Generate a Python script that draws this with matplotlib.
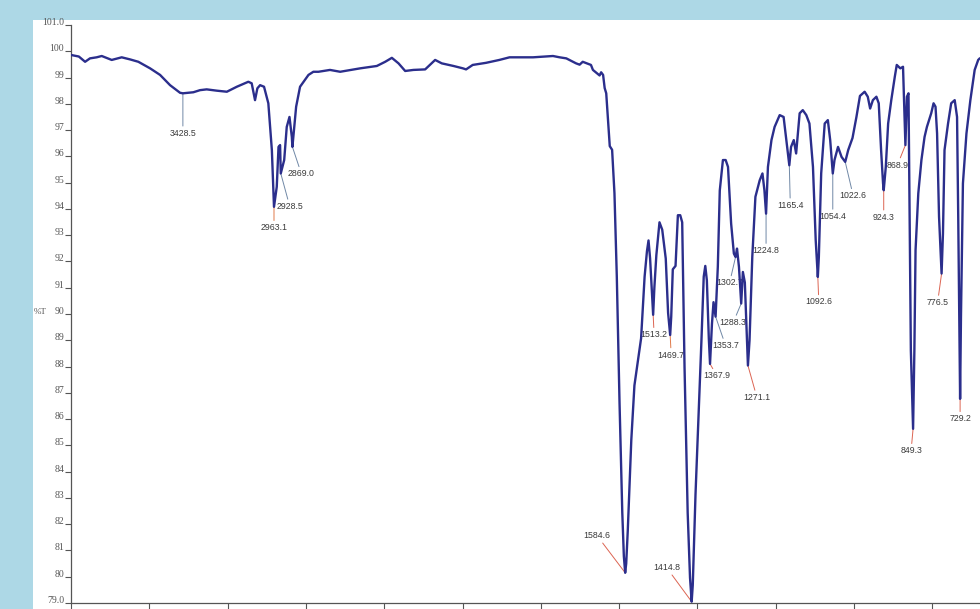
# IR spectrum (%T vs wavenumber) with peak labels
import numpy as np
import matplotlib.pyplot as plt
from matplotlib.patches import Rectangle

# spectrum (cm-1, %T)
wavenumber = [4000, 3960, 3928, 3903, 3869, 3843, 3792, 3741, 3698, 3656, 3596, 3545,
              3494, 3443, 3428.5, 3375, 3341, 3307, 3255, 3204, 3153, 3094, 3077, 3060,
              3048, 3034, 3014, 2992, 2974, 2963.1, 2949, 2940, 2932, 2928.5, 2911, 2898,
              2884, 2872, 2869.0, 2850, 2830, 2787, 2762, 2736, 2677, 2625, 2523, 2438,
              2395, 2361, 2327, 2293, 2251, 2191, 2140, 2106, 2046, 1999, 1991, 1974,
              1940, 1906, 1880, 1820, 1769, 1752, 1735, 1710, 1701, 1693, 1672, 1667,
              1650, 1646, 1641, 1637, 1633, 1629, 1624, 1618, 1612, 1606, 1599, 1592,
              1588, 1584.6, 1582, 1578, 1569, 1561, 1552, 1544, 1535, 1529, 1525, 1521,
              1516, 1513.2, 1510, 1505, 1497, 1490, 1481, 1475, 1469.7, 1467, 1463, 1456,
              1450, 1444, 1439, 1433, 1425, 1419, 1414.8, 1412, 1405, 1396, 1390, 1384,
              1380, 1376, 1371, 1367.9, 1363, 1359, 1353.7, 1348, 1343, 1335, 1328, 1322,
              1314, 1307, 1302.7, 1299, 1294, 1288.3, 1284, 1279, 1275, 1271.1, 1267, 1260,
              1252, 1241, 1234, 1229, 1224.8, 1220, 1211, 1203, 1190, 1180, 1173, 1165.4,
              1161, 1154, 1148, 1139, 1131, 1122, 1114, 1105, 1098, 1092.6, 1090, 1084,
              1075, 1067, 1061, 1054.4, 1050, 1041, 1032, 1022.6, 1015, 1004, 994, 985,
              973, 965, 959, 952, 943, 937, 931, 926, 924.3, 919, 913, 905,
              896, 891, 882, 875, 871, 868.9, 865, 861, 858, 855, 849.3, 846,
              843, 836, 828, 820, 814, 803, 797, 792, 788, 783, 776.5, 773,
              769, 760, 752, 743, 737, 734, 729.2, 727, 722, 713, 703, 692,
              683, 679, 660]
transmittance = [99.86, 99.8, 99.6, 99.73, 99.77, 99.82, 99.67, 99.77, 99.69, 99.6, 99.35, 99.1,
                 98.71, 98.42, 98.4, 98.44, 98.52, 98.55, 98.5, 98.46, 98.65, 98.84, 98.78, 98.14,
                 98.59, 98.71, 98.65, 98.02, 96.24, 94.08, 94.84, 96.36, 96.43, 95.35, 95.86, 97.12,
                 97.5, 96.74, 96.36, 97.89, 98.65, 99.1, 99.22, 99.22, 99.29, 99.22, 99.35, 99.44,
                 99.6, 99.75, 99.54, 99.25, 99.29, 99.31, 99.67, 99.54, 99.44, 99.35, 99.31, 99.48,
                 99.56, 99.67, 99.77, 99.77, 99.82, 99.77, 99.73, 99.54, 99.49, 99.6, 99.48, 99.29,
                 99.08, 99.2, 99.1, 98.6, 98.4, 97.5, 96.39, 96.25, 94.6, 91.42, 86.6, 82.44,
                 80.78, 80.15, 80.5, 81.75, 85.2, 87.28, 88.23, 89.07, 91.42, 92.39, 92.8, 92.12,
                 90.73, 89.97, 91.02, 92.24, 93.49, 93.21, 92.11, 90.04, 89.2, 89.9, 91.7, 91.83,
                 93.76, 93.76, 93.49, 87.97, 82.44, 79.96, 79.05, 79.68, 83.13, 86.6, 88.93, 91.42,
                 91.83, 91.28, 89.07, 88.1, 89.62, 90.45, 89.9, 91.8, 94.7, 95.86, 95.86, 95.6,
                 93.44, 92.3, 92.17, 92.49, 91.79, 90.4, 91.6, 91.2, 89.63, 88.04, 89.0, 92.17,
                 94.46, 95.09, 95.35, 94.71, 93.82, 95.6, 96.62, 97.12, 97.57, 97.5, 96.62, 95.66,
                 96.36, 96.62, 96.11, 97.64, 97.76, 97.57, 97.25, 95.6, 92.81, 91.41, 92.17, 95.35,
                 97.25, 97.38, 96.62, 95.35, 95.86, 96.36, 95.98, 95.79, 96.24, 96.7, 97.5, 98.3,
                 98.46, 98.27, 97.82, 98.14, 98.27, 98.02, 96.24, 94.97, 94.71, 95.6, 97.25, 98.14,
                 99.03, 99.48, 99.35, 99.41, 97.5, 96.43, 98.27, 98.4, 93.7, 88.61, 85.63, 88.61,
                 92.43, 94.59, 95.86, 96.74, 97.12, 97.64, 98.02, 97.89, 96.87, 93.7, 91.54, 93.06,
                 96.24, 97.25, 98.02, 98.14, 97.5, 93.7, 86.77, 89.88, 94.97, 96.87, 98.14, 99.29,
                 99.67, 99.73, 99.8]

# labelled peaks
peak_wn = [3428.5, 2963.1, 2928.5, 2869.0, 1584.6, 1414.8, 1513.2, 1469.7, 1367.9,
           1353.7, 1302.7, 1288.3, 1271.1, 1224.8, 1165.4, 1092.6, 1054.4, 1022.6,
           924.3, 868.9, 849.3, 776.5, 729.2]
# label offset from the peak (pixels, x right / y up)
peak_offsets = [(0, -40), (0, -21), (9, -33), (9, -27), (-28, 37), (-25, 34), (1, -20),
                (1, -20), (7, -12), (10, -29), (-6, -26), (-8, -19), (9, -32), (0, -37),
                (1, -40), (1, -25), (0, -43), (8, -34), (0, -27), (-8, -20), (-2, -22),
                (-4, -29), (0, -20)]
blue_lead = '#7088a6'
red_lead = '#dc6452'
peak_colors = [blue_lead, '#e07a4a', blue_lead, blue_lead, red_lead, red_lead, red_lead,
               '#e07a4a', red_lead, blue_lead, blue_lead, blue_lead, red_lead, blue_lead,
               blue_lead, red_lead, blue_lead, blue_lead, red_lead, red_lead, red_lead,
               red_lead, red_lead]

y_ticks = list(range(79, 102))
y_ticklabels = ['79.0'] + [str(v) for v in range(80, 101)] + ['101.0']
x_ticks = [4000, 3600, 3200, 2800, 2400, 2000, 1800, 1600, 1400, 1200, 1000, 800, 600, 400]


# wavenumber axis is compressed 2:1 above 2000 cm-1
def fwd(w):
    w = np.asarray(w, dtype=float)
    return np.where(w >= 2000, 2000 + (w - 2000) / 2, w)


def inv(u):
    u = np.asarray(u, dtype=float)
    return np.where(u >= 2000, 2000 + (u - 2000) * 2, u)


W, H = 980, 609
fig = plt.figure(figsize=(W / 100, H / 100), dpi=100, facecolor='#add8e6')
fig.patches.append(Rectangle((33 / W, 0), (W - 33) / W, (H - 20) / H,
                             transform=fig.transFigure, facecolor='white',
                             edgecolor='none', zorder=-1))

# axes right edge runs past the picture (the original is cropped there)
ax = fig.add_axes([71 / W, 6 / H, 1018 / W, 578 / H])
ax.set_xscale('function', functions=(fwd, inv))
ax.set_xlim(4000, 400)
ax.set_ylim(79, 101)

ax.plot(wavenumber, transmittance, color='#2b2e8c', lw=1.7, zorder=3,
        solid_joinstyle='round')

wn_arr = np.array(wavenumber)[::-1]
tr_arr = np.array(transmittance)[::-1]
for w, off, col in zip(peak_wn, peak_offsets, peak_colors):
    t = np.interp(w, wn_arr, tr_arr)
    ax.annotate(f'{w:.1f}', xy=(w, t), xytext=off, textcoords='offset pixels',
                ha='center', va='center', fontsize=6.3, color='#3a3a3a',
                family='Liberation Sans', zorder=2,
                arrowprops=dict(arrowstyle='-', color=col, lw=0.7,
                                shrinkA=0, shrinkB=0))

ax.set_yticks(y_ticks)
ax.set_yticklabels(y_ticklabels, family='Liberation Serif', fontsize=7, color='#555555')
for lbl in ax.get_yticklabels():
    lbl.set_verticalalignment('baseline')
ax.set_xticks(x_ticks)
ax.tick_params(axis='y', direction='out', length=4, width=0.8, color='#555555', pad=1)
ax.tick_params(axis='x', direction='out', length=6, width=0.8, color='#555555',
               labelbottom=False)
ax.minorticks_off()

for s in ['top', 'right']:
    ax.spines[s].set_visible(False)
for s in ['left', 'bottom']:
    ax.spines[s].set_color('#555555')
    ax.spines[s].set_linewidth(0.9)

fig.text(40 / W, 1 - 312 / H, '%T', fontsize=6.5, family='Liberation Serif',
         color='#555555', ha='center', va='center')

fig.savefig('out.png', dpi=100, facecolor=fig.get_facecolor())
